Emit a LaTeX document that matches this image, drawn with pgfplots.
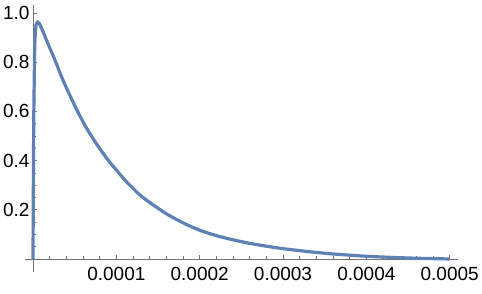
\documentclass[border=0pt]{standalone}
\usepackage{pgfplots}
\pgfplotsset{compat=1.18}
\usepackage{fontspec}
\setmainfont{Liberation Sans}
\definecolor{mma}{rgb}{0.368417,0.506779,0.709798}
\definecolor{axgray}{gray}{0.45}
\begin{document}
\begin{tikzpicture}
\begin{axis}[
  name=ax, scale only axis, width=433pt, height=267pt,
  axis lines=middle, axis line style={-, axgray, line width=0.8pt},
  xmin=-0.0000096, xmax=0.00051, ymin=-0.053, ymax=1.033,
  scaled x ticks=false, scaled y ticks=false,
  xtick={0.0001,0.0002,0.0003,0.0004,0.0005},
  xticklabels={0.0001,0.0002,0.0003,0.0004,0.0005},
  ytick={0.2,0.4,0.6,0.8,1.0},
  yticklabels={0.2,0.4,0.6,0.8,1.0},
  minor xtick={0.00002,0.00004,0.00006,0.00008,0.00012,0.00014,0.00016,0.00018,0.00022,0.00024,0.00026,0.00028,0.00032,0.00034,0.00036,0.00038,0.00042,0.00044,0.00046,0.00048},
  minor ytick={0.05,0.1,0.15,0.25,0.3,0.35,0.45,0.5,0.55,0.65,0.7,0.75,0.85,0.9,0.95},
  tick style={axgray, line width=0.8pt},
  major tick length=4pt, minor tick length=2.5pt,
  tick align=inside,
  ticklabel style={font=\fontsize{19}{22}\selectfont, text=black},
  xticklabel style={yshift=-5pt},
  clip=false,
]
\addplot[mma, line width=3.2pt, line join=round, smooth, tension=0.4] coordinates {
(0,0) (0.0000005,0.35) (0.000001,0.6) (0.000002,0.85) (0.000003,0.93) (0.000004,0.955)
(0.0000055,0.965) (0.000008,0.955) (0.000012,0.925) (0.000018,0.875) (0.0000264,0.809)
(0.000035,0.735) (0.000045,0.66) (0.000055,0.59) (0.000065,0.528) (0.0000784,0.457)
(0.0000924,0.392) (0.0001,0.362) (0.00011,0.322) (0.00012,0.287) (0.0001284,0.260)
(0.0001404,0.229) (0.00016,0.184) (0.00018,0.147) (0.0002,0.117) (0.00022,0.095)
(0.00024,0.078) (0.00026,0.0635) (0.00028,0.052) (0.0003,0.042) (0.00033,0.030)
(0.000356,0.0215) (0.00038,0.0155) (0.0004,0.011) (0.00043,0.0065) (0.00046,0.003)
(0.0005,0.0)
};
\end{axis}
\pgfresetboundingbox
\path[use as bounding box] ([shift={(-25pt,-21pt)}]ax.south west) rectangle ++(482pt,293pt);
\end{tikzpicture}
\end{document}
